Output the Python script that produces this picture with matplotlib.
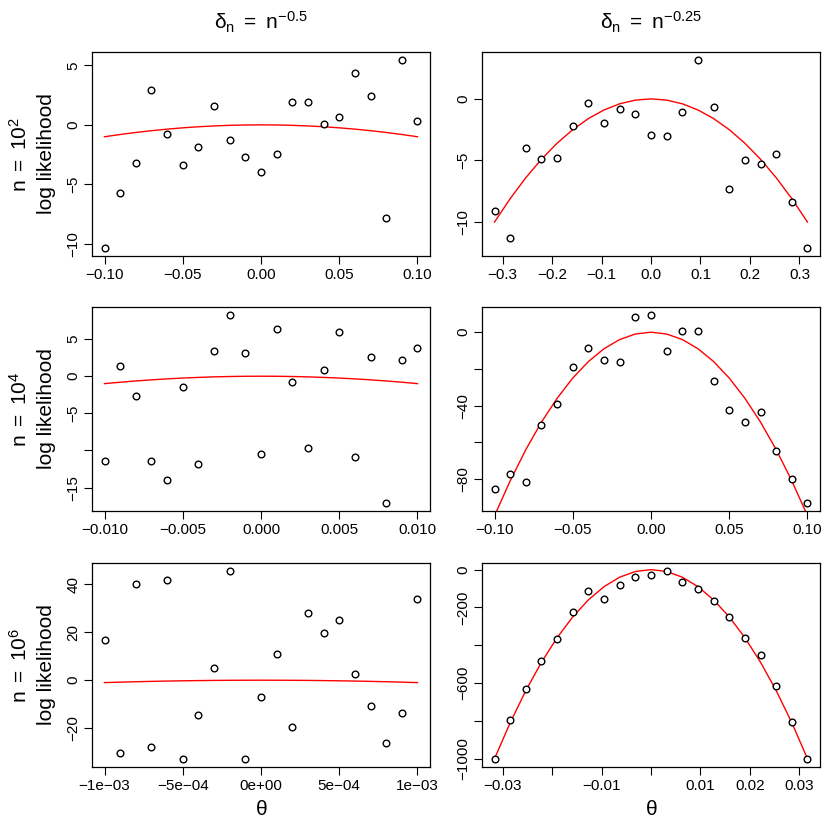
import numpy as np
import matplotlib.pyplot as plt

plt.rcParams['font.family'] = ['Liberation Sans', 'DejaVu Sans']
plt.rcParams['mathtext.fontset'] = 'custom'
plt.rcParams['mathtext.rm'] = 'Liberation Sans'
plt.rcParams['mathtext.it'] = 'Liberation Sans'
plt.rcParams['mathtext.bf'] = 'Liberation Sans'

# ---------------------------------------------------------------
# data
# theta = delta_n * grid, delta_n = n^(-exponent)
# ---------------------------------------------------------------
grid = [-1.0, -0.9, -0.8, -0.7, -0.6, -0.5, -0.4, -0.3, -0.2, -0.1, 0.0,
        0.1, 0.2, 0.3, 0.4, 0.5, 0.6, 0.7, 0.8, 0.9, 1.0]
n_vals = [1e2, 1e4, 1e6]
n_labels = ['2', '4', '6']
exponents = [0.5, 0.25]
col_titles = [r'$\delta_n\ =\ n^{-0.5}$', r'$\delta_n\ =\ n^{-0.25}$']

# log likelihood points, row = n, col = exponent
ll_n2_half = [-10.39, -5.69, -3.19, 2.89, -0.73, -3.36, -1.85, 1.60, -1.26, -2.72, -3.95,
              -2.49, 1.96, 1.96, 0.06, 0.62, 4.37, 2.41, -7.87, 5.49, 0.34]
ll_n2_quarter = [-9.08, -11.30, -4.00, -4.92, -4.78, -2.22, -0.32, -1.97, -0.86, -1.24, -2.92,
                 -3.03, -1.08, 3.19, -0.62, -7.32, -4.97, -5.27, -4.46, -8.35, -12.14]
ll_n4_half = [-11.48, 1.39, -2.65, -11.48, -14.04, -1.39, -11.79, 3.41, 8.30, 3.14, -10.54,
              6.32, -0.76, -9.73, 0.90, 6.01, -10.90, 2.56, -17.13, 2.24, 3.77]
ll_n4_quarter = [-85.5, -77.3, -81.8, -50.7, -39.3, -18.7, -8.5, -15.1, -16.0, 8.4, 9.6,
                 -10.2, 0.7, 0.4, -26.7, -42.4, -48.7, -43.6, -64.7, -80.2, -93.3]
ll_n6_half = [16.6, -30.5, 40.1, -28.1, 41.8, -33.1, -14.5, 4.9, 45.8, -33.1, -7.2,
              11.1, -19.5, 28.1, 19.8, 25.2, 2.5, -10.9, -26.2, -13.5, 34.0]
ll_n6_quarter = [-1004, -796, -633, -485, -365, -226, -115, -155, -79, -39, -26,
                 -5, -67, -102, -167, -248, -361, -451, -613, -804, -1001]

points = [[ll_n2_half, ll_n2_quarter],
          [ll_n4_half, ll_n4_quarter],
          [ll_n6_half, ll_n6_quarter]]

# tick positions / labels (R drops overlapping labels)
xticks = [
    [([-0.10, -0.05, 0.0, 0.05, 0.10], ['−0.10', '−0.05', '0.00', '0.05', '0.10']),
     ([-0.3, -0.2, -0.1, 0.0, 0.1, 0.2, 0.3], ['−0.3', '−0.2', '−0.1', '0.0', '0.1', '0.2', '0.3'])],
    [([-0.01, -0.005, 0.0, 0.005, 0.01], ['−0.010', '−0.005', '0.000', '0.005', '0.010']),
     ([-0.10, -0.05, 0.0, 0.05, 0.10], ['−0.10', '−0.05', '0.00', '0.05', '0.10'])],
    [([-1e-3, -5e-4, 0.0, 5e-4, 1e-3], ['−1e−03', '−5e−04', '0e+00', '5e−04', '1e−03']),
     ([-0.03, -0.02, -0.01, 0.0, 0.01, 0.02, 0.03], ['−0.03', '', '−0.01', '', '0.01', '0.02', '0.03'])],
]
yticks = [
    [([-10, -5, 0, 5], ['−10', '−5', '0', '5']),
     ([-10, -5, 0], ['−10', '−5', '0'])],
    [([-15, -10, -5, 0, 5], ['−15', '', '−5', '0', '5']),
     ([-80, -60, -40, -20, 0], ['−80', '', '−40', '', '0'])],
    [([-20, 0, 20, 40], ['−20', '0', '20', '40']),
     ([-1000, -800, -600, -400, -200, 0], ['−1000', '', '−600', '', '−200', '0'])],
]

# ---------------------------------------------------------------
W = 830
fig = plt.figure(figsize=(8.3, 8.3), dpi=100)

col_left = [92, 482]
row_top = [52, 307, 563]
aw, ah = 338, 204

for i in range(3):
    for j in range(2):
        l, t = col_left[j], row_top[i]
        ax = fig.add_axes([l / W, 1 - (t + ah) / W, aw / W, ah / W])
        n = n_vals[i]
        delta = n ** (-exponents[j])
        theta = np.array(grid) * delta
        y = np.array(points[i][j], dtype=float)

        ax.plot(theta, y, 'o', mfc='white', mec='black', ms=4.8, mew=1.0, zorder=3)
        # quadratic approximation -n*theta^2
        ax.plot(theta, -n * theta ** 2, color='red', lw=1.0, zorder=2)

        # R-style 4% padding from the points
        xr = theta.max() - theta.min()
        yr = y.max() - y.min()
        ax.set_xlim(theta.min() - 0.04 * xr, theta.max() + 0.04 * xr)
        ax.set_ylim(y.min() - 0.04 * yr, y.max() + 0.04 * yr)

        xt, xl = xticks[i][j]
        yt, yl = yticks[i][j]
        ax.set_xticks(xt)
        ax.set_xticklabels(xl)
        ax.set_yticks(yt)
        ax.set_yticklabels(yl, rotation=90, va='center')
        ax.tick_params(direction='out', length=6, width=0.8, labelsize=11, pad=2.5)
        for s in ax.spines.values():
            s.set_linewidth(0.9)

        if i == 0:
            ax.text(0.5, 1 + 30 / ah, col_titles[j], transform=ax.transAxes,
                    ha='center', va='center', fontsize=15)
        if i == 2:
            ax.set_xlabel(r'$\theta$', fontsize=15, labelpad=5)
        if j == 0:
            yc = 1 - (t + ah / 2) / W
            fig.text(20 / W, yc, r'$n\ =\ 10^{%s}$' % n_labels[i], rotation=90,
                     ha='center', va='center', fontsize=15)
            fig.text(47 / W, yc, 'log likelihood', rotation=90,
                     ha='center', va='center', fontsize=15)

fig.savefig('out.png', dpi=100)
